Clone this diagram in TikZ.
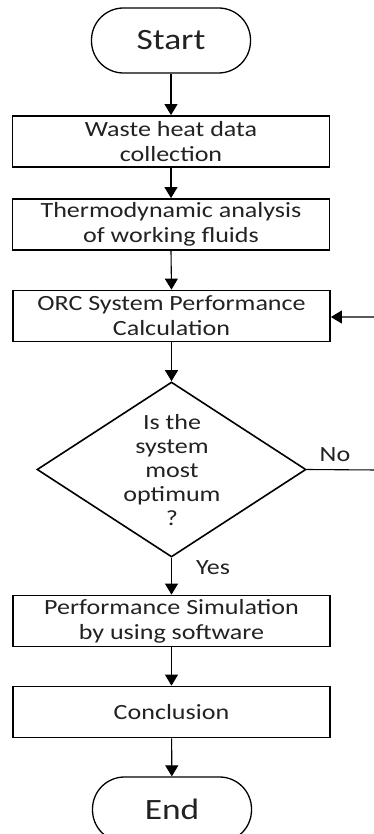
\documentclass[tikz,border=0pt]{standalone}
\usepackage{fontspec}
\setmainfont[FakeStretch=1.2]{Carlito}
\usetikzlibrary{arrows.meta,shapes.geometric}
\definecolor{txt}{HTML}{222222}
\begin{document}
\begin{tikzpicture}[x=1pt,y=-1pt,
  box/.style={draw, line width=1.8pt, minimum width=317pt, minimum height=51pt, inner sep=0pt, align=center, font=\fontsize{21.7}{25}\selectfont, text=txt},
  term/.style={draw, line width=1.3pt, rounded corners=32pt, minimum width=159pt, minimum height=65pt, inner sep=0pt, font=\fontsize{29.5}{34}\selectfont, text=txt},
  dec/.style={draw, diamond, line width=1.6pt, minimum width=269pt, minimum height=175pt, inner sep=0pt},
  arr/.style={-{Triangle[width=13pt,length=11pt]}, line width=1.1pt},
  lbl/.style={font=\fontsize{21.7}{24}\selectfont, text=txt, inner sep=0pt, align=center}]
\useasboundingbox (0,0) rectangle (374,834);
\node[term] (start) at (171,40.5) {Start};
\node[box] (b1) at (171,141.5) {Waste heat data\\collection};
\node[box] (b2) at (171,224.5) {Thermodynamic analysis\\of working fluids};
\node[box] (b3) at (171.5,316) {ORC System Performance\\Calculation};
\node[dec] (d) at (171.5,469.5) {};
\node[lbl] (dtext) at (172,470) {Is the\\system\\most\\optimum\\?};
\node[box] (b4) at (171.5,621) {Performance Simulation\\by using software};
\node[box] (b5) at (171.5,712) {Conclusion};
\node[term] (end) at (172,809.5) {End};
\coordinate (c1) at (378,470);
\coordinate (c2) at (378,317);
\node[lbl] (no) at (335,455) {No};
\node[lbl] (yes) at (213,568) {Yes};
\draw[arr] (start) -- (b1);
\draw[arr] (b1) -- (b2);
\draw[arr] (b2.south) -- (b3.north);
\draw[arr] (b3) -- (d.north);
\draw[arr] (d.south) -- (b4.north);
\draw[arr] (b4) -- (b5);
\draw[arr] (b5) -- (end);
\draw[arr] (d.east) -- (c1) -- (c2) -- (b3.east |- c2);
\end{tikzpicture}
\end{document}
